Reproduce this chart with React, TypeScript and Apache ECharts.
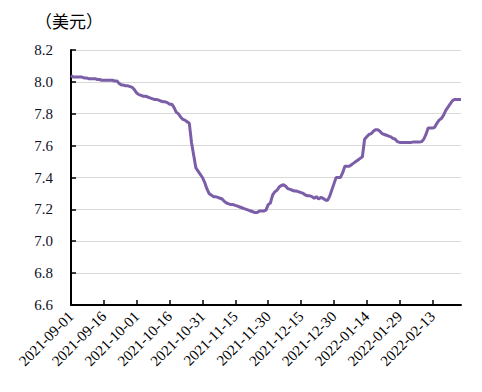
import React, { useEffect, useRef } from "react";
import * as echarts from "echarts";

const DAY_COUNT = 179;

const categories: string[] = (() => {
  const out: string[] = [];
  const base = Date.UTC(2021, 8, 1);
  for (let i = 0; i < DAY_COUNT; i++) {
    const d = new Date(base + i * 86400000);
    const m = String(d.getUTCMonth() + 1).padStart(2, "0");
    const dd = String(d.getUTCDate()).padStart(2, "0");
    out.push(`${d.getUTCFullYear()}-${m}-${dd}`);
  }
  return out;
})();

const values: number[] = [
  8.04, 8.03, 8.03, 8.03, 8.03, 8.03, 8.025, 8.025, 8.02, 8.02,
  8.02, 8.02, 8.015, 8.015, 8.01, 8.01, 8.01, 8.01, 8.01, 8.01,
  8.005, 8.005, 7.99, 7.98, 7.98, 7.975, 7.975, 7.97, 7.965, 7.95,
  7.93, 7.92, 7.915, 7.91, 7.91, 7.905, 7.9, 7.895, 7.89, 7.89,
  7.885, 7.88, 7.875, 7.875, 7.87, 7.86, 7.86, 7.84, 7.81, 7.8,
  7.78, 7.765, 7.76, 7.75, 7.74, 7.62, 7.54, 7.46, 7.44, 7.42,
  7.4, 7.37, 7.33, 7.3, 7.29, 7.28, 7.28, 7.275, 7.27, 7.265,
  7.25, 7.24, 7.235, 7.23, 7.23, 7.225, 7.22, 7.215, 7.21, 7.205,
  7.2, 7.195, 7.19, 7.185, 7.18, 7.18, 7.19, 7.19, 7.19, 7.195,
  7.23, 7.24, 7.29, 7.31, 7.32, 7.34, 7.35, 7.355, 7.345, 7.33,
  7.325, 7.32, 7.315, 7.315, 7.31, 7.305, 7.3, 7.29, 7.285, 7.285,
  7.28, 7.27, 7.28, 7.265, 7.275, 7.27, 7.26, 7.255, 7.28, 7.32,
  7.36, 7.4, 7.4, 7.4, 7.43, 7.47, 7.47, 7.47, 7.48, 7.49,
  7.5, 7.51, 7.52, 7.53, 7.64, 7.655, 7.67, 7.675, 7.69, 7.7,
  7.7, 7.69, 7.675, 7.67, 7.665, 7.66, 7.655, 7.645, 7.64, 7.625,
  7.62, 7.62, 7.62, 7.62, 7.62, 7.62, 7.622, 7.622, 7.622, 7.622,
  7.625, 7.64, 7.67, 7.71, 7.71, 7.71, 7.715, 7.74, 7.76, 7.77,
  7.79, 7.82, 7.84, 7.86, 7.88, 7.89, 7.89, 7.89, 7.89,
];

const Y_MIN = 6.6;
const Y_MAX = 8.2;
const Y_STEP = 0.2;
const UNIT_LABEL = "（美元）";

export default function App() {
  const ref = useRef<HTMLDivElement>(null);
  useEffect(() => {
    if (!ref.current) return;
    const chart = echarts.init(ref.current, undefined, { renderer: "svg" });
    const serif = "Times New Roman, Liberation Serif, DejaVu Serif, serif";
    chart.setOption({
      animation: false,
      backgroundColor: "#ffffff",
      textStyle: { fontFamily: serif },
      graphic: [
        {
          type: "text",
          left: 27,
          top: 4,
          style: {
            text: UNIT_LABEL,
            fontFamily: "Noto Sans CJK SC",
            fontSize: 17,
            fill: "#000000",
          },
        },
      ],
      grid: { left: 63, right: 13, top: 42, bottom: 79, containLabel: false },
      xAxis: {
        type: "category",
        data: categories,
        boundaryGap: false,
        axisLine: { lineStyle: { color: "#000000", width: 2 } },
        axisTick: { inside: true, interval: 14, length: 5, lineStyle: { color: "#000000", width: 1.5 } },
        axisLabel: {
          interval: 14,
          rotate: 45,
          fontFamily: serif,
          fontSize: 15,
          color: "#000000",
          margin: 9,
        },
        splitLine: { show: false },
      },
      yAxis: {
        type: "value",
        min: Y_MIN,
        max: Y_MAX,
        interval: Y_STEP,
        axisLine: { show: true, lineStyle: { color: "#000000", width: 2 } },
        axisTick: { show: true, inside: true, length: 5, lineStyle: { color: "#000000", width: 1.5 } },
        axisLabel: {
          fontFamily: serif,
          fontSize: 15,
          color: "#10102a",
          margin: 18,
          formatter: (v: number) => v.toFixed(1),
        },
        splitLine: { show: true, lineStyle: { color: "#d9d9d9", width: 1.2 } },
      },
      series: [
        {
          type: "line",
          data: values,
          showSymbol: false,
          symbol: "none",
          lineStyle: { color: "#7b5ea7", width: 3 },
        },
      ],
    });
    return () => chart.dispose();
  }, []);
  return <div ref={ref} style={{ width: 466, height: 376 }} />;
}
